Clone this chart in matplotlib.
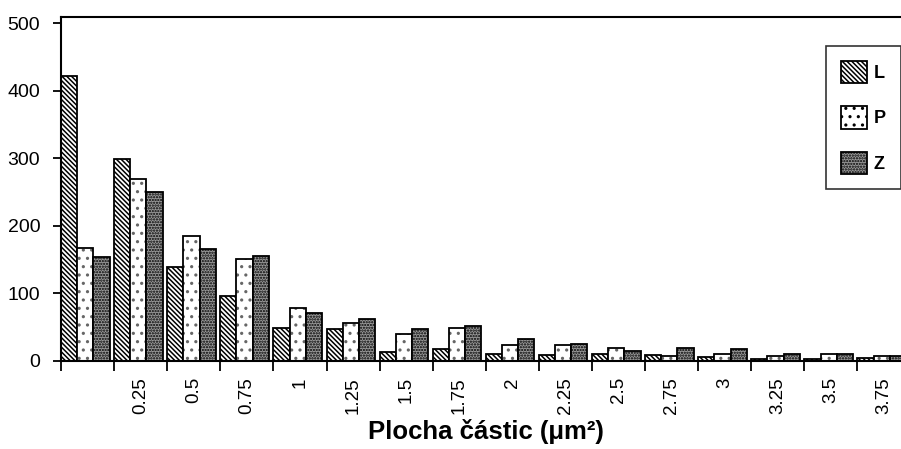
import numpy as np
import matplotlib
matplotlib.use('Agg')
import matplotlib.pyplot as plt
from matplotlib.patches import Patch

plt.rcParams['font.family'] = ['Liberation Sans', 'DejaVu Sans']
plt.rcParams['hatch.linewidth'] = 1.1

# particle area classes (first class has no label)
labels = ['', '0.25', '0.5', '0.75', '1', '1.25', '1.5', '1.75', '2',
          '2.25', '2.5', '2.75', '3', '3.25', '3.5', '3.75']
L = [421, 298, 138, 95, 48, 47, 12, 17, 10, 8, 10, 8, 5, 2, 2, 4]
P = [167, 269, 185, 150, 78, 55, 40, 48, 23, 23, 19, 7, 10, 7, 10, 6]
Z = [153, 250, 165, 155, 70, 62, 47, 51, 32, 24, 14, 18, 17, 10, 10, 6]

fig = plt.figure(figsize=(9.01, 4.49), dpi=100)
ax = fig.add_axes([61 / 901, 88.5 / 449, 849.6 / 901, 343.5 / 449])

x = np.arange(len(labels))
w = 0.305
ax.bar(x + 0.5 * w, L, w, facecolor='white', edgecolor='black', linewidth=1.3,
       hatch='\\' * 7)
# P: grey stipple first, black outline drawn on top
ax.bar(x + 1.5 * w, P, w, facecolor='white', edgecolor='#666666', linewidth=0,
       hatch='..')
ax.bar(x + 1.5 * w, P, w, facecolor='none', edgecolor='black', linewidth=1.3)
ax.bar(x + 2.5 * w, Z, w, facecolor='#999999', edgecolor='black', linewidth=1.3,
       hatch='......')

ax.set_xlim(0, len(labels))
ax.set_ylim(0, 509)
ax.set_yticks([0, 100, 200, 300, 400, 500])
ax.tick_params(axis='y', labelsize=14, length=6, width=1.3, direction='out', pad=9)

# category boundaries get tick marks, category centres get the labels
ax.set_xticks(x + 0.5)
ax.set_xticklabels(labels, rotation=90, fontsize=13.5)
ax.set_xticks(np.arange(len(labels) + 1), minor=True)
ax.tick_params(axis='x', which='major', length=0, pad=12)
ax.tick_params(axis='x', which='minor', length=7, width=1.3, direction='out')

for s in ax.spines.values():
    s.set_linewidth(1.5)

ax.set_xlabel('Plocha částic (μm²)', fontsize=18.5, fontweight='bold', labelpad=4)

handles = [Patch(facecolor='white', edgecolor='black', linewidth=1.3, hatch='\\' * 7),
           Patch(facecolor='white', edgecolor='black', linewidth=1.3, hatch='..'),
           Patch(facecolor='#999999', edgecolor='black', linewidth=1.3, hatch='......')]
leg = ax.legend(handles, ['L', 'P', 'Z'], loc='upper left',
                bbox_to_anchor=(826 / 901, 1 - 46 / 449),
                bbox_transform=fig.transFigure, fancybox=False, frameon=True,
                edgecolor='black', prop={'weight': 'bold', 'size': 13},
                handlelength=1.4, handleheight=1.5, labelspacing=1.28,
                handletextpad=0.4, borderpad=0.85, borderaxespad=0)
leg.get_frame().set_linewidth(1.2)

fig.savefig('out.png', dpi=100)
